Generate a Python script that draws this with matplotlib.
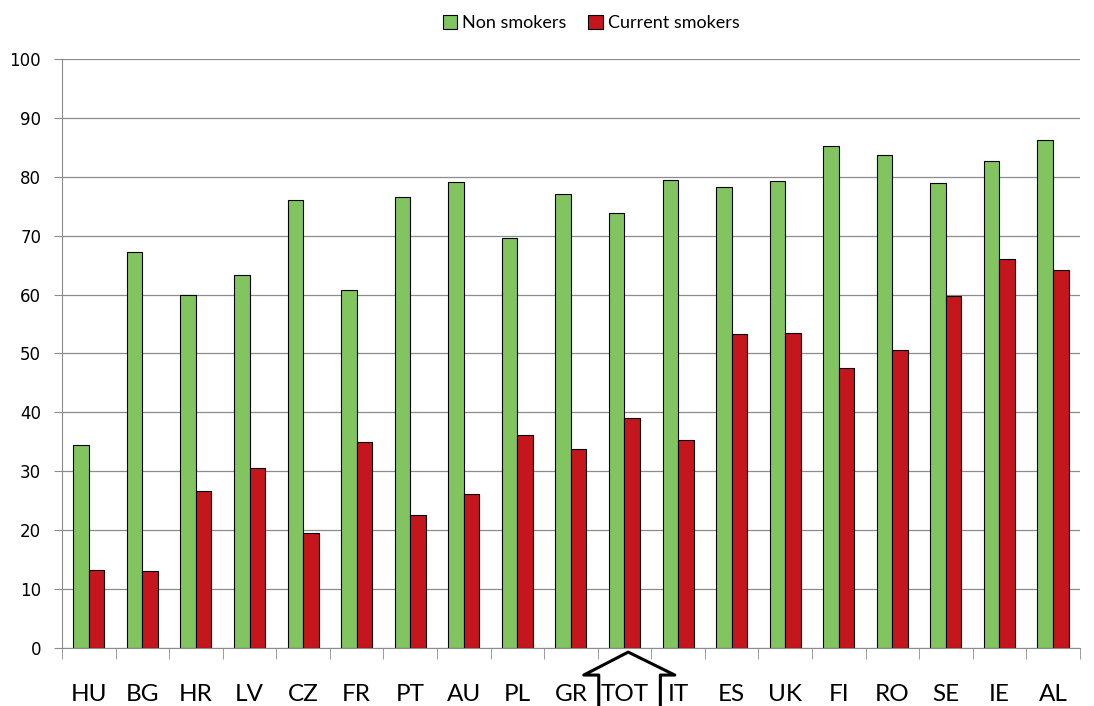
import matplotlib.pyplot as plt
import matplotlib.transforms as mtransforms
import numpy as np

countries = ['HU', 'BG', 'HR', 'LV', 'CZ', 'FR', 'PT', 'AU', 'PL', 'GR',
             'TOT', 'IT', 'ES', 'UK', 'FI', 'RO', 'SE', 'IE', 'AL']
non_smokers = [34.4, 67.3, 60.0, 63.3, 76.0, 60.8, 76.5, 79.1, 69.6, 77.0,
               73.9, 79.4, 78.3, 79.3, 85.3, 83.7, 79.0, 82.7, 86.3]
current_smokers = [13.3, 13.0, 26.7, 30.6, 19.5, 35.0, 22.5, 26.1, 36.1, 33.8,
                   39.1, 35.3, 53.3, 53.4, 47.6, 50.6, 59.7, 66.0, 64.2]

plt.rcParams['font.family'] = ['Lato', 'DejaVu Sans']

fig = plt.figure(figsize=(10.94, 7.06), dpi=100)
ax = fig.add_axes([0.0567, 0.0822, 0.9303, 0.8342])

x = np.arange(len(countries))
w = 0.29
ax.bar(x - w/2, non_smokers, w, color='#82C45F', edgecolor='black', linewidth=0.8,
       label='Non smokers', zorder=3)
ax.bar(x + w/2, current_smokers, w, color='#C4161C', edgecolor='black', linewidth=0.8,
       label='Current smokers', zorder=3)

ax.set_xlim(-0.5, len(countries) - 0.5)
ax.set_ylim(0, 100)
ax.set_yticks(np.arange(0, 101, 10))
ax.yaxis.grid(True, color='#8c8c8c', linewidth=0.9, zorder=0)
ax.tick_params(axis='y', length=6, color='#8c8c8c', pad=9)
for t in ax.get_yticklabels():
    t.set_fontfamily('DejaVu Sans')
    t.set_fontsize(12)

# category labels with boundary ticks
ax.set_xticks(x)
ax.set_xticklabels(countries, fontsize=17.5)
ax.tick_params(axis='x', length=0, pad=26)
ax.set_xticks(np.arange(-0.5, len(countries), 1), minor=True)
ax.tick_params(axis='x', which='minor', length=8, color='#8c8c8c')

for s in ['top', 'right']:
    ax.spines[s].set_visible(False)
for s in ['left', 'bottom']:
    ax.spines[s].set_color('#8c8c8c')

# arrow shape pointing at TOT
trans = mtransforms.blended_transform_factory(ax.transData, ax.transAxes)
ax_x = [9.52, 9.52, 9.24, 10.07, 10.94, 10.67, 10.67]
ax_y = [-0.099, -0.046, -0.046, -0.007, -0.046, -0.046, -0.099]
ax.plot(ax_x, ax_y, color='black', linewidth=2.2, transform=trans, clip_on=False)

ax.legend(loc='lower center', bbox_to_anchor=(0.52, 1.02), ncol=2, frameon=False,
          fontsize=13, handlelength=0.8, handleheight=0.8, handletextpad=0.3,
          columnspacing=1.2)

plt.savefig('out.png', dpi=100)
